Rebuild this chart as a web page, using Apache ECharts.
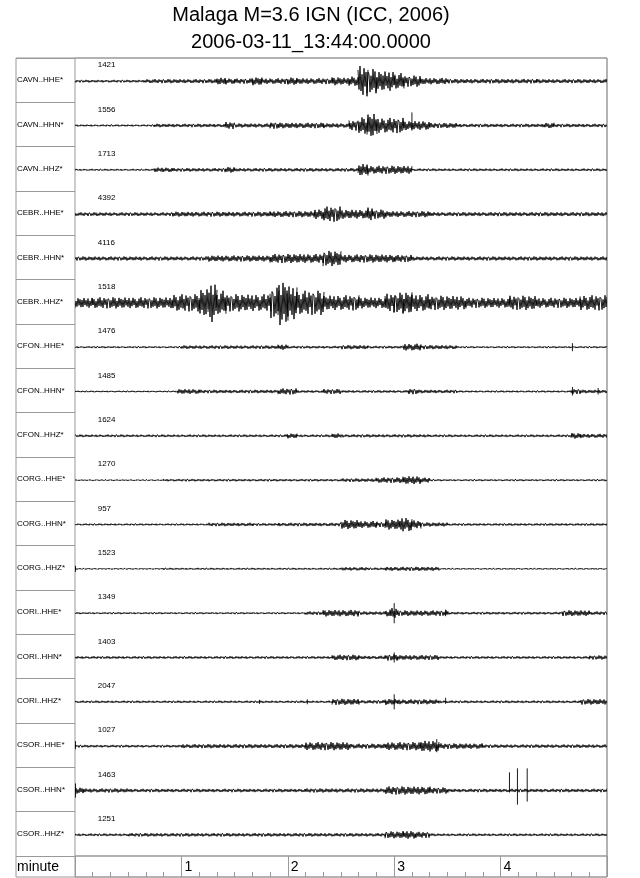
<!DOCTYPE html>
<html>
<head>
    <meta charset="utf-8">
    <title>Malaga M=3.6</title>
    <script src="https://cdn.jsdelivr.net/npm/echarts@6/dist/echarts.min.js"></script>
    <style>
        *{ margin: 0; padding: 0; }
        html,body{ width: 100%; height: 100%; overflow: hidden; background: #fff; }
        #main{ width: 640px; height: 878px; }
    </style>
</head>
<body>
<div id="main"></div>

<script>
    // trace labels and the number printed above each trace
    const traceNames = ['CAVN..HHE*','CAVN..HHN*','CAVN..HHZ*','CEBR..HHE*','CEBR..HHN*','CEBR..HHZ*',
        'CFON..HHE*','CFON..HHN*','CFON..HHZ*','CORG..HHE*','CORG..HHN*','CORG..HHZ*',
        'CORI..HHE*','CORI..HHN*','CORI..HHZ*','CSOR..HHE*','CSOR..HHN*','CSOR..HHZ*'];
    const traceScales = [1421,1556,1713,4392,4116,1518,1476,1485,1624,1270,957,1523,1349,1403,2047,1027,1463,1251];

    // envelope of each trace: [from s, to s, half amplitude] (row = 44 units)
    const cavnHHE = [[0,40,1.3],[40,80,2],[80,85,3.5],[85,90,2.8],[90,100,2.5],[100,105,4],[105,120,2.8],[120,125,3.5],[125,145,2.9],[145,150,4],[150,155,3.5],[155,160,5],[160,165,15],[165,170,12],[170,180,10],[180,185,8],[185,195,5.5],[195,210,3.2],[210,260,2.2],[260,300,2]];
    const cavnHHN = [[0,45,1],[45,85,1.7],[85,90,3.4],[90,110,2],[110,115,3.2],[115,140,2.7],[140,155,2.2],[155,160,5],[160,165,8],[165,170,12],[170,185,7.5],[185,200,4.5],[200,215,2.5],[215,265,1.7],[265,270,2.8],[270,300,1.7]];
    const cavnHHZ = [[0,45,1],[45,55,2.3],[55,85,1.7],[85,90,2.7],[90,160,1.7],[160,165,6],[165,190,4],[190,300,1.3]];
    const cebrHHE = [[0,55,1.8],[55,110,2.4],[110,135,3],[135,140,5],[140,150,7.5],[150,165,4.5],[165,168,6.5],[168,175,4.5],[175,200,3],[200,300,2]];
    const cebrHHN = [[0,75,2],[75,110,3],[110,140,4.5],[140,150,7.5],[150,180,4],[180,190,3.5],[190,300,2]];
    const cebrHHZ = [[0,10,5],[10,55,5.5],[55,70,8.5],[70,75,14],[75,80,20],[80,85,12],[85,110,8.5],[110,115,15],[115,120,22],[120,125,17],[125,140,12],[140,160,7.5],[160,175,5.5],[175,180,9],[180,185,10],[185,190,11],[190,200,8.5],[200,220,7],[220,245,5],[245,260,7],[260,285,5],[285,300,7.5]];
    const cfonHHE = [[0,60,1],[60,115,1.7],[115,120,2.7],[120,150,1.3],[150,165,2],[165,185,1.3],[185,195,3.4],[195,215,2],[215,300,1]];
    const cfonHHN = [[0,58,0.8],[58,70,2.4],[70,115,1.7],[115,125,3],[125,140,1.3],[140,150,2.4],[150,188,1.3],[188,193,2.7],[193,215,1.7],[215,280,1],[280,285,2.5],[285,300,1.7]];
    const cfonHHZ = [[0,120,1.3],[120,125,2.4],[125,145,1.3],[145,150,2.4],[150,200,1.5],[200,280,1.3],[280,285,2.7],[285,300,2]];
    const corgHHE = [[0,50,0.7],[50,150,1.2],[150,170,1.7],[170,185,2.7],[185,195,4],[195,200,2.5],[200,300,1]];
    const corgHHN = [[0,75,1],[75,100,1.7],[100,115,1.3],[115,150,1.7],[150,160,4.5],[160,170,3.5],[170,175,2.5],[175,183,5],[183,190,7],[190,195,4],[195,210,2],[210,300,1.2]];
    const corgHHZ = [[0,50,0.7],[50,150,1],[150,165,1.7],[165,175,1.2],[175,205,2],[205,300,0.8]];
    const coriHHE = [[0,130,1],[130,140,1.7],[140,160,3.2],[160,175,1.7],[175,178,3.4],[178,182,5],[182,210,2.7],[210,275,1.3],[275,290,2.8],[290,300,1.7]];
    const coriHHN = [[0,145,1.3],[145,160,2.7],[160,175,1.7],[175,182,3],[182,205,2.4],[205,290,1.3],[290,300,2]];
    const coriHHZ = [[0,145,1.2],[145,160,3],[160,175,1.7],[175,182,3],[182,205,2.4],[205,285,1.3],[285,300,2.7]];
    const csorHHE = [[0,60,1.3],[60,130,2],[130,155,4],[155,175,2.4],[175,195,4],[195,205,5.5],[205,230,2.7],[230,300,1.7]];
    const csorHHN = [[0,5,3],[5,30,2],[30,130,1.7],[130,175,2],[175,200,4],[200,210,3],[210,300,1.7]];
    const csorHHZ = [[0,30,1.3],[30,175,1.7],[175,185,3.4],[185,192,4],[192,200,3],[200,300,1.3]];

    const envelopes = [cavnHHE,cavnHHN,cavnHHZ,cebrHHE,cebrHHN,cebrHHZ,cfonHHE,cfonHHN,cfonHHZ,
        corgHHE,corgHHN,corgHHZ,coriHHE,coriHHN,coriHHZ,csorHHE,csorHHN,csorHHZ];

    // sharp transients: [row, time s, up, down]
    const spikes = [[1,190,13,5],[6,280.5,4,4],[7,280.5,4.5,4],[7,295,3.5,3],[11,0.3,3,3],
        [12,180,10,10],[12,209,3.5,3],[13,180,5,5],[14,180,7.5,7.5],[14,104,2,2],[14,131,2.4,2.4],[14,209,4,2],
        [15,0.3,5,3],[15,204,7,6],[16,0.3,7,7],[16,245,18,2],[16,249.5,22,14],[16,255,22,11]];

    const rowUnits = 44;
    const baseOffset = 23;
    const tMax = 300;
    const grey = '#999';
    const font = '"Liberation Sans", Arial, Helvetica, sans-serif';

    // fixed wiggle shape used to draw the envelope as a trace
    const wiggle = [0.6,-0.9,0.45,-0.7,1.0,-0.55,0.8,-1.0,0.35,-0.75,0.9,-0.5,0.7,-0.85,0.55,-0.8,0.95,-0.45,
        0.5,-0.7,0.85,-0.95,0.4,-0.6,0.9,-0.4,0.65,-0.9,0.3,-0.8,0.75,-0.55,1.0,-0.65,0.45,-0.9,0.85,-0.35,0.6,-1.0,0.75];
    const step = 1.0;

    let traceData = [];
    envelopes.forEach((env, row) => {
        env.forEach(seg => traceData.push([row, seg[0], seg[1], seg[2]]));
    });

    function renderTrace(params, api) {
        let row = api.value(0), t0 = api.value(1), t1 = api.value(2), amp = api.value(3);
        let base = row * rowUnits + baseOffset;
        let p0 = api.coord([t0, base]);
        let p1 = api.coord([t1, base]);
        let ampPx = p0[1] - api.coord([t0, base - amp])[1];
        let xmin = api.coord([0, base])[0], xmax = api.coord([tMax, base])[0];
        let k0 = Math.floor(p0[0] / step), k1 = Math.ceil(p1[0] / step);
        let pts = [];
        for (let k = k0; k <= k1; k++) {
            let x = Math.min(Math.max(k * step, xmin), xmax);
            let w = wiggle[(k + row * 11) % wiggle.length];
            pts.push([x, p0[1] - ampPx * w]);
        }
        return {
            type: 'polyline',
            shape: {points: pts},
            style: {stroke: '#000', lineWidth: 0.9, fill: null},
            silent: true
        };
    }

    function renderSpike(params, api) {
        let row = api.value(0), t = api.value(1);
        let base = row * rowUnits + baseOffset;
        let a = api.coord([t, base - api.value(2)]);
        let b = api.coord([t, base + api.value(3)]);
        return {
            type: 'line',
            shape: {x1: a[0], y1: a[1], x2: b[0], y2: b[1]},
            style: {stroke: '#000', lineWidth: 0.9},
            silent: true
        };
    }

    function renderScale(params, api) {
        let row = api.value(0);
        let p = api.coord([12.8, row * rowUnits + 7]);
        return {
            type: 'text',
            x: p[0], y: p[1],
            style: {text: String(api.value(1)), fontSize: 8, fontFamily: font, fill: '#000',
                align: 'left', verticalAlign: 'middle'},
            silent: true
        };
    }

    let chart = echarts.init(document.getElementById('main'));
    let option = {
        animation: false,
        backgroundColor: '#fff',
        graphic: [
            {type: 'text', x: 311, y: 15, style: {text: 'Malaga M=3.6 IGN (ICC, 2006)', fontSize: 20,
                fontFamily: font, fill: '#000', align: 'center', verticalAlign: 'middle'}},
            {type: 'text', x: 311, y: 42, style: {text: '2006-03-11_13:44:00.0000', fontSize: 20,
                fontFamily: font, fill: '#000', align: 'center', verticalAlign: 'middle'}},
            {type: 'rect', shape: {x: 16, y: 58, width: 591, height: 819},
                style: {stroke: grey, fill: null, lineWidth: 1}, silent: true},
            {type: 'text', x: 17, y: 867, style: {text: 'minute', fontSize: 14, fontFamily: font,
                fill: '#000', align: 'left', verticalAlign: 'middle'}}
        ],
        grid: [
            {left: 75, top: 58, width: 532, height: 798, show: true, borderColor: grey, borderWidth: 1},
            {left: 75, top: 856, width: 532, height: 21, show: true, borderColor: grey, borderWidth: 1}
        ],
        xAxis: [
            {type: 'value', gridIndex: 0, min: 0, max: tMax, show: false},
            {
                type: 'value', gridIndex: 1, min: 0, max: tMax, interval: 60,
                axisLine: {show: false},
                axisTick: {show: true, inside: true, length: 21, lineStyle: {color: grey}},
                minorTick: {show: true, splitNumber: 6, length: 5, lineStyle: {color: grey}},
                splitLine: {show: false},
                axisLabel: {
                    inside: true, margin: 3, align: 'left', verticalAlign: 'bottom',
                    padding: [0, 0, 0, 3], fontSize: 14, fontFamily: font, color: '#000',
                    formatter: v => (v > 0 && v < tMax) ? String(v / 60) : ''
                }
            }
        ],
        yAxis: [
            {
                type: 'category', gridIndex: 0, data: traceNames, inverse: true,
                axisLine: {show: false},
                axisTick: {show: true, length: 59, lineStyle: {color: grey}},
                axisLabel: {align: 'left', margin: 58, fontSize: 8, fontFamily: font, color: '#000'}
            },
            {type: 'value', gridIndex: 0, min: 0, max: rowUnits * traceNames.length, inverse: true, show: false},
            {type: 'value', gridIndex: 1, min: 0, max: 1, show: false}
        ],
        series: [
            {type: 'custom', xAxisIndex: 0, yAxisIndex: 1, renderItem: renderTrace, data: traceData, clip: true},
            {type: 'custom', xAxisIndex: 0, yAxisIndex: 1, renderItem: renderSpike, data: spikes, clip: true},
            {type: 'custom', xAxisIndex: 0, yAxisIndex: 1, renderItem: renderScale,
                data: traceScales.map((s, i) => [i, s])}
        ]
    };
    chart.setOption(option);
</script>
</body>
</html>
